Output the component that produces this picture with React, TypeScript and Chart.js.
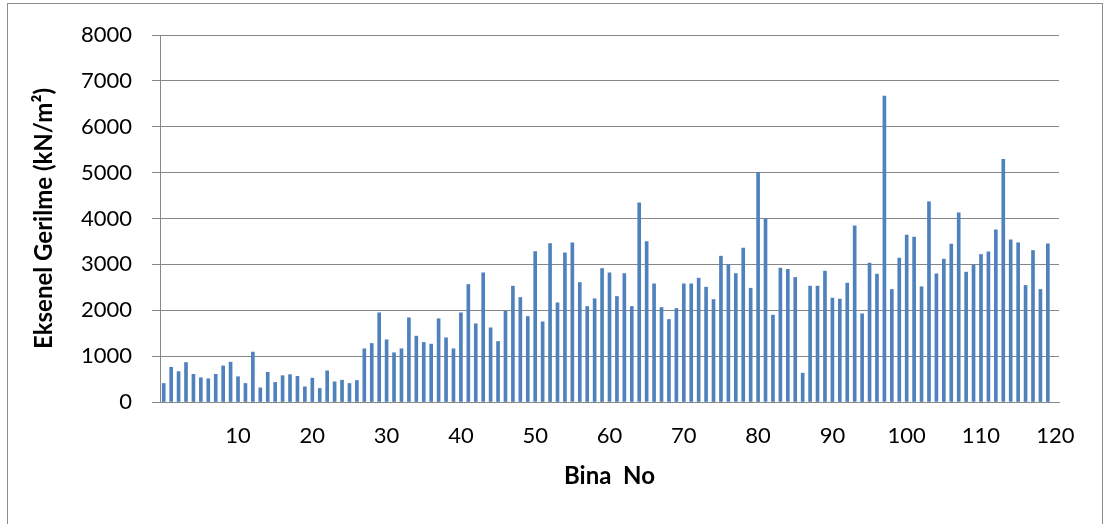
import React, { useEffect, useRef } from "react";
import { Chart, registerables } from "chart.js";

Chart.register(...registerables);

// Bina No (x positions of the bars on the axis)
const binaNo = [
  0, 1, 2, 3, 4, 5, 6, 7, 8, 9,
  10, 11, 12, 13, 14, 15, 16, 17, 18, 19,
  20, 21, 22, 23, 24, 25, 26, 27, 28, 29,
  30, 31, 32, 33, 34, 35, 36, 37, 38, 39,
  40, 41, 42, 43, 44, 45, 46, 47, 48, 49,
  50, 51, 52, 53, 54, 55, 56, 57, 58, 59,
  60, 61, 62, 63, 64, 65, 66, 67, 68, 69,
  70, 71, 72, 73, 74, 75, 76, 77, 78, 79,
  80, 81, 82, 83, 84, 85, 86, 87, 88, 89,
  90, 91, 92, 93, 94, 95, 96, 97, 98, 99,
  100, 101, 102, 103, 104, 105, 106, 107, 108, 109,
  110, 111, 112, 113, 114, 115, 116, 117, 118, 119,
];

// Eksenel Gerilme (kN/m²)
const eksenelGerilme = [
  404, 757, 662, 860, 603, 529, 507, 603, 787, 868,
  551, 404, 1088, 309, 647, 426, 574, 596, 559, 331,
  520, 295, 680, 440, 476, 404, 469, 1160, 1276, 1945,
  1356, 1073, 1160, 1836, 1436, 1298, 1262, 1815, 1400, 1160,
  1944, 2561, 1705, 2816, 1617, 1319, 1980, 2525, 2278, 1864,
  3280, 1748, 3454, 2162, 3251, 3469, 2604, 2082, 2250, 2910,
  2815, 2300, 2801, 2082, 4340, 3498, 2576, 2060, 1799, 2038,
  2576, 2576, 2699, 2503, 2234, 3179, 2990, 2801, 3353, 2480,
  5005, 3994, 1894, 2919, 2890, 2715, 629, 2526, 2526, 2853,
  2265, 2243, 2592, 3842, 1923, 3028, 2788, 6669, 2453, 3137,
  3638, 3594, 2512, 4365, 2795, 3114, 3441, 4125, 2831, 2984,
  3216, 3274, 3753, 5288, 3536, 3471, 2541, 3303, 2453, 3448,
];

const xTickValues = [10, 20, 30, 40, 50, 60, 70, 80, 90, 100, 110, 120];
const yTickStep = 1000;
const yMax = 8000;

const FONT = "Lato, 'Open Sans', sans-serif";
const GRID = "#878787";

export default function App() {
  const canvasRef = useRef<HTMLCanvasElement | null>(null);

  useEffect(() => {
    let chart: Chart | null = null;
    let cancelled = false;
    const make = () => {
      if (cancelled || !canvasRef.current) return;
      chart = new Chart(canvasRef.current, {
        type: "bar",
        data: {
          datasets: [
            {
              data: binaNo.map((x, i) => ({ x, y: eksenelGerilme[i] })),
              backgroundColor: "#4F81BD",
              borderWidth: 0,
              barThickness: 3,
            },
          ],
        },
        options: {
          responsive: false,
          animation: false,
          layout: { padding: { left: 0, top: 35, right: 45, bottom: 0 } },
          plugins: { legend: { display: false }, tooltip: { enabled: false } },
          scales: {
            x: {
              type: "linear",
              min: -0.5,
              max: 120.5,
              offset: false,
              afterBuildTicks: (s: any) => {
                s.ticks = xTickValues.map((v) => ({ value: v }));
              },
              afterFit: (s: any) => {
                s.height = 122;
              },
              ticks: {
                autoSkip: false,
                maxRotation: 0,
                padding: 21,
                color: "#000",
                font: { family: FONT, size: 22 },
                callback: (v: any) => String(v),
              },
              grid: { display: false, drawTicks: false, offset: false },
              border: { display: true, color: GRID, width: 1 },
              title: {
                display: true,
                text: "Bina  No",
                color: "#000",
                font: { family: FONT, size: 24, weight: "bold" },
                padding: { top: 0, bottom: 33.6 },
              },
            },
            y: {
              min: 0,
              max: yMax,
              afterFit: (s: any) => {
                s.width = 160;
              },
              ticks: {
                stepSize: yTickStep,
                padding: 20,
                color: "#000",
                font: { family: FONT, size: 22 },
                callback: (v: any) => String(v),
              },
              grid: { color: GRID, lineWidth: 1, drawTicks: true, tickLength: 8 },
              border: { display: true, color: GRID, width: 1 },
              title: {
                display: true,
                text: "Eksenel Gerilme (kN/m²)",
                color: "#000",
                font: { family: FONT, size: 24, weight: "bold" },
                padding: { top: 29.6, bottom: 0 },
              },
            },
          },
        },
      });
    };
    const fontsApi = (document as any).fonts;
    if (fontsApi && fontsApi.load) {
      Promise.all([
        fontsApi.load("22px Lato"),
        fontsApi.load("bold 24px Lato"),
      ])
        .catch(() => null)
        .then(make);
    } else {
      make();
    }
    return () => {
      cancelled = true;
      if (chart) chart.destroy();
    };
  }, []);

  return (
    <div
      style={{
        position: "fixed",
        left: 0,
        top: 0,
        width: 1104,
        height: 524,
        overflow: "hidden",
        background: "#fff",
      }}
    >
      <canvas
        ref={canvasRef}
        width={1104}
        height={524}
        style={{ position: "absolute", left: 0, top: 0, width: 1104, height: 524 }}
      />
      <div
        style={{
          position: "absolute",
          left: 7,
          top: 3,
          width: 1096,
          height: 540,
          border: "1px solid #8e8e8e",
          boxSizing: "border-box",
          pointerEvents: "none",
        }}
      />
    </div>
  );
}
